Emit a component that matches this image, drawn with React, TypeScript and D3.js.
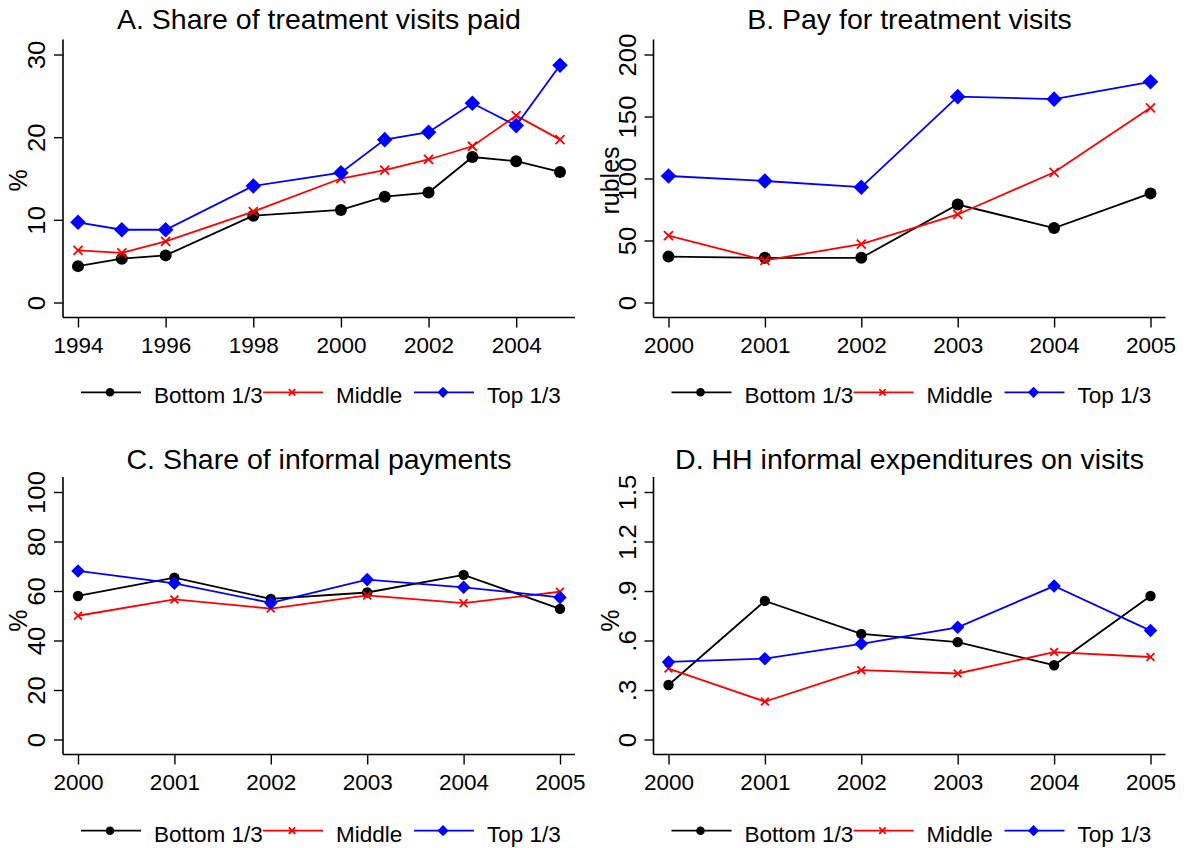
import * as d3 from "d3";
import { useEffect, useRef } from "react";

const seriesNames = ["Bottom 1/3", "Middle", "Top 1/3"];
const seriesColors = ["#000000", "#ff0000", "#0000ff"];

// A. Share of treatment visits paid
const yearsA = [1994, 1995, 1996, 1998, 2000, 2001, 2002, 2003, 2004, 2005];
const bottomA = [4.4, 5.3, 5.7, 10.5, 11.2, 12.8, 13.3, 17.6, 17.1, 15.8];
const middleA = [6.3, 6.0, 7.4, 11.0, 15.0, 16.0, 17.3, 18.9, 22.6, 19.7];
const topA = [9.7, 8.8, 8.8, 14.1, 15.7, 19.7, 20.6, 24.1, 21.4, 28.7];
const xTicksA = [1994, 1996, 1998, 2000, 2002, 2004];
const yTicksA = [0, 10, 20, 30];

// B, C, D share the same years
const years = [2000, 2001, 2002, 2003, 2004, 2005];

// B. Pay for treatment visits (rubles)
const bottomB = [37, 36, 36, 79, 60, 88];
const middleB = [54, 34, 47, 71, 105, 157];
const topB = [102, 98, 93, 166, 164, 178];
const yTicksB = [0, 50, 100, 150, 200];

// C. Share of informal payments
const bottomC = [58, 65.4, 56.8, 59.4, 66.5, 52.8];
const middleC = [50, 56.6, 52.9, 58.2, 55.1, 59.7];
const topC = [68.1, 63.1, 55.2, 64.6, 61.5, 57.4];
const yTicksC = [0, 20, 40, 60, 80, 100];

// D. HH informal expenditures on visits
const bottomD = [0.33, 0.84, 0.64, 0.59, 0.45, 0.87];
const middleD = [0.43, 0.23, 0.42, 0.4, 0.53, 0.5];
const topD = [0.47, 0.49, 0.58, 0.68, 0.93, 0.66];
const yTicksD = [0, 0.3, 0.6, 0.9, 1.2, 1.5];
const yTickLabelsD = ["0", ".3", ".6", ".9", "1.2", "1.5"];

const FONT = "'Liberation Sans', Arial, Helvetica, sans-serif";

type PanelOpts = {
  title: string;
  yLabel: string;
  x: number[];
  series: number[][];
  xTicks: number[];
  yTicks: number[];
  yTickLabels?: string[];
  left: number; // panel left edge
  top: number; // panel top edge
  big?: boolean;
};

function drawMarker(
  g: d3.Selection<SVGGElement, unknown, null, undefined>,
  kind: number,
  cx: number,
  cy: number,
  size: number
) {
  const color = seriesColors[kind];
  if (kind === 0) {
    g.append("circle").attr("cx", cx).attr("cy", cy).attr("r", size).attr("fill", color);
  } else if (kind === 1) {
    const h = size * 0.75;
    g.append("path")
      .attr("d", `M${cx - h},${cy - h}L${cx + h},${cy + h}M${cx - h},${cy + h}L${cx + h},${cy - h}`)
      .attr("stroke", color)
      .attr("stroke-width", 1.8)
      .attr("fill", "none");
  } else {
    const h = size * 1.3;
    g.append("path")
      .attr("d", `M${cx},${cy - h}L${cx + h},${cy}L${cx},${cy + h}L${cx - h},${cy}Z`)
      .attr("fill", color);
  }
}

function drawPanel(
  svg: d3.Selection<SVGSVGElement, unknown, null, undefined>,
  o: PanelOpts,
  idx: number
) {
  const plotLeft = o.left + (o.left === 0 ? 63 : 61.5);
  const plotRight = plotLeft + 512;
  const axisTop = o.top + (o.top === 0 ? 39.5 : 37);
  const axisBottom = o.top + (o.top === 0 ? 317.5 : 314.5);
  const inset = 15;

  svg
    .append("clipPath")
    .attr("id", `clip${idx}`)
    .append("rect")
    .attr("x", o.left)
    .attr("y", o.top)
    .attr("width", 592)
    .attr("height", 424);

  const g = svg.append("g").attr("clip-path", `url(#clip${idx})`);

  const x = d3
    .scaleLinear()
    .domain([o.x[0], o.x[o.x.length - 1]])
    .range([plotLeft + inset, plotRight - inset]);
  const y = d3
    .scaleLinear()
    .domain([o.yTicks[0], o.yTicks[o.yTicks.length - 1]])
    .range([axisBottom - inset, axisTop + inset]);

  // title
  g.append("text")
    .attr("x", (plotLeft + plotRight) / 2)
    .attr("y", o.top + 29)
    .attr("text-anchor", "middle")
    .attr("font-family", FONT)
    .attr("font-size", 28.5)
    .text(o.title);

  // y axis
  const yAxis = g
    .append("g")
    .attr("transform", `translate(${plotLeft},0)`)
    .call(
      d3
        .axisLeft(y)
        .tickValues(o.yTicks)
        .tickSize(9)
        .tickSizeOuter(0)
        .tickFormat((d, i) => (o.yTickLabels ? o.yTickLabels[i] : String(d)))
    );
  yAxis.select(".domain").attr("d", `M0,${axisTop}V${axisBottom}`).attr("stroke-width", 1.6);
  yAxis.selectAll(".tick line").attr("stroke-width", 1.4);
  // Stata draws the rotated tick labels a little stretched
  yAxis
    .selectAll(".tick text")
    .attr("font-family", FONT)
    .attr("font-size", 23.5)
    .attr("fill", "#000")
    .attr("x", null)
    .attr("dy", null)
    .attr("text-anchor", "middle")
    .attr("transform", "translate(-18,0) scale(1,1.1) rotate(-90)");

  // x axis
  const xAxis = g
    .append("g")
    .attr("transform", `translate(0,${axisBottom})`)
    .call(d3.axisBottom(x).tickValues(o.xTicks).tickSize(10).tickSizeOuter(0).tickFormat(d3.format("d")));
  xAxis.select(".domain").attr("d", `M${plotLeft},0H${plotRight}`).attr("stroke-width", 1.6);
  xAxis.selectAll(".tick line").attr("stroke-width", 1.4);
  xAxis
    .selectAll(".tick text")
    .attr("font-family", FONT)
    .attr("font-size", 22.5)
    .attr("fill", "#000")
    .attr("dy", null)
    .attr("y", 35.5);

  // y axis title
  g.append("text")
    .attr("transform", `translate(${o.left + 27},${(axisTop + axisBottom) / 2 + (o.top === 0 ? 2 : 5)}) rotate(-90)`)
    .attr("text-anchor", "middle")
    .attr("font-family", FONT)
    .attr("font-size", 25)
    .text(o.yLabel);

  // lines + markers
  const line = d3
    .line<number>()
    .x((_, i) => x(o.x[i]))
    .y((d) => y(d));

  o.series.forEach((vals, k) => {
    g.append("path")
      .attr("d", line(vals)!)
      .attr("fill", "none")
      .attr("stroke", seriesColors[k])
      .attr("stroke-width", 1.8);
    const mg = g.append("g");
    vals.forEach((v, i) => {
      drawMarker(mg, k, x(o.x[i]), y(v), o.big ? 6 : 5.2);
    });
  });

  // legend
  const legY = o.top === 0 ? 392.3 : 830.7;
  const itemX = [0, 182, 333];
  const legStart = plotLeft + 18;
  seriesNames.forEach((name, k) => {
    const x0 = legStart + itemX[k];
    g.append("line")
      .attr("x1", x0)
      .attr("x2", x0 + 60)
      .attr("y1", legY)
      .attr("y2", legY)
      .attr("stroke", seriesColors[k])
      .attr("stroke-width", 1.8);
    drawMarker(g, k, x0 + 29, legY, 4.3);
    g.append("text")
      .attr("x", x0 + 73)
      .attr("y", legY + 11)
      .attr("font-family", FONT)
      .attr("font-size", 22.5)
      .text(name);
  });
}

export default function App() {
  const ref = useRef<SVGSVGElement>(null);

  useEffect(() => {
    if (!ref.current) return;
    const svg = d3.select(ref.current);
    svg.selectAll("*").remove();

    svg.append("rect").attr("width", 1184).attr("height", 848).attr("fill", "#fff");

    const panels: PanelOpts[] = [
      {
        title: "A. Share of treatment visits paid",
        yLabel: "%",
        x: yearsA,
        series: [bottomA, middleA, topA],
        xTicks: xTicksA,
        yTicks: yTicksA,
        left: 0,
        top: 0,
        big: true,
      },
      {
        title: "B. Pay for treatment visits",
        yLabel: "rubles",
        x: years,
        series: [bottomB, middleB, topB],
        xTicks: years,
        yTicks: yTicksB,
        left: 592,
        top: 0,
        big: true,
      },
      {
        title: "C. Share of informal payments",
        yLabel: "%",
        x: years,
        series: [bottomC, middleC, topC],
        xTicks: years,
        yTicks: yTicksC,
        left: 0,
        top: 440,
      },
      {
        title: "D. HH informal expenditures on visits",
        yLabel: "%",
        x: years,
        series: [bottomD, middleD, topD],
        xTicks: years,
        yTicks: yTicksD,
        yTickLabels: yTickLabelsD,
        left: 592,
        top: 440,
      },
    ];
    panels.forEach((p, i) => drawPanel(svg, p, i));
  }, []);

  return (
    <svg
      ref={ref}
      width={1184}
      height={848}
      style={{ position: "absolute", left: 0, top: 0, display: "block" }}
    ></svg>
  );
}
